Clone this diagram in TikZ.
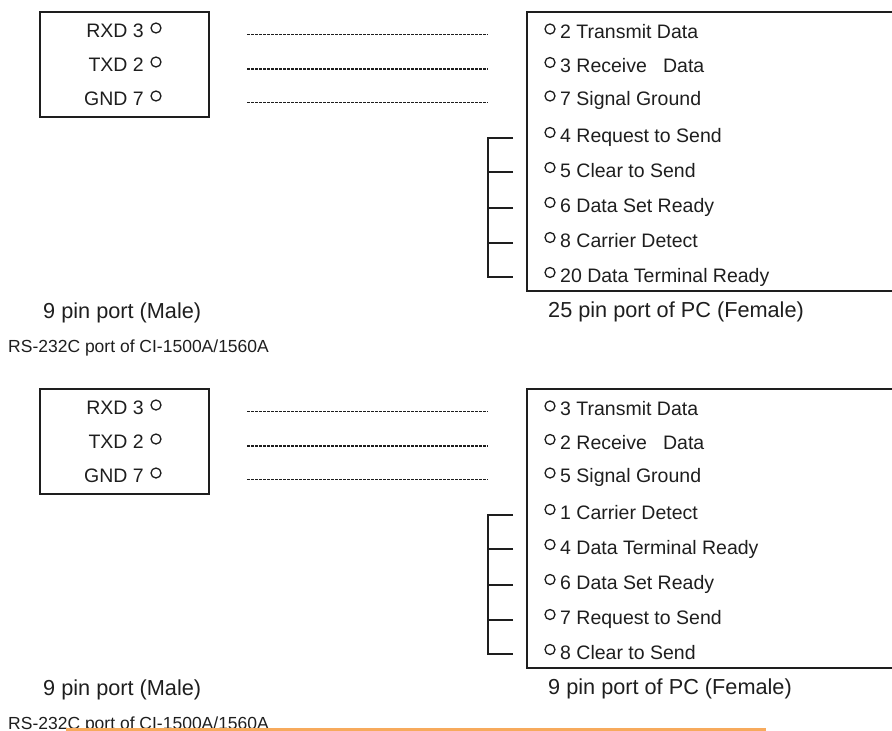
\documentclass[tikz,border=0pt]{standalone}
\usepackage{fontspec}
\setmainfont{Liberation Sans}
\usetikzlibrary{positioning}
\definecolor{inkgrey}{RGB}{30,30,30}
\definecolor{rulegold}{RGB}{247,170,92}
\newcommand{\rowsize}{\fontsize{19.5}{22}\selectfont}
\newcommand{\capsize}{\fontsize{21.7}{25}\selectfont}
\newcommand{\notesize}{\fontsize{17.5}{20}\selectfont}
\tikzset{
    port/.style={
           rectangle,
           draw=inkgrey, line width=1.4pt,
           inner sep=0pt,
           },
    pin/.style={circle, draw=inkgrey, line width=1.3pt, inner sep=0pt, minimum size=10pt},
    pinname/.style={inner sep=0pt, text=inkgrey, font=\rowsize},
    caption/.style={inner sep=0pt, text=inkgrey, font=\capsize, anchor=base west},
    note/.style={inner sep=0pt, text=inkgrey, font=\notesize, anchor=base west},
    wire/.style={draw=inkgrey, line width=1.5pt, dash pattern=on 3pt off 1pt},
    jumper/.style={draw=inkgrey, line width=1.5pt},
}
\begin{document}
\begin{tikzpicture}[x=1pt,y=-1pt]
      \useasboundingbox (0,0) rectangle (892,731);
      \clip (0,0) rectangle (892,731);

      \node[port, minimum width=169pt, minimum height=105pt] (male_a) at (124.5,64.5) {};
      \node[port, minimum width=473pt, minimum height=279pt] (female_a) at (763.5,151.5) {};

      \node[pinname, anchor=base east] (rxd_a) at (144,37)  {RXD 3};
      \node[pinname, anchor=base east] (txd_a) at (144,71)  {TXD 2};
      \node[pinname, anchor=base east] (gnd_a) at (144,105) {GND 7};
      \node[pin] (p_rxd_a) at (156,28)   {};
      \node[pin] (p_txd_a) at (156,62)   {};
      \node[pin] (p_gnd_a) at (156,96)   {};

      \node[pin] (q_1a) at (550,29)    {};
      \node[pin] (q_2a) at (550,62.5)  {};
      \node[pin] (q_3a) at (550,96)    {};
      \node[pin] (q_4a) at (550,132.5) {};
      \node[pin] (q_5a) at (550,167.5) {};
      \node[pin] (q_6a) at (550,202.5) {};
      \node[pin] (q_7a) at (550,237.5) {};
      \node[pin] (q_8a) at (550,272.5) {};
      \node[pinname, anchor=base west] (t_1a) at (560,38.5)  {2 Transmit Data};
      \node[pinname, anchor=base west] (t_2a) at (560,72)    {3 Receive~~~Data};
      \node[pinname, anchor=base west] (t_3a) at (560,105.5) {7 Signal Ground};
      \node[pinname, anchor=base west] (t_4a) at (560,142)   {4 Request to Send};
      \node[pinname, anchor=base west] (t_5a) at (560,177)   {5 Clear to Send};
      \node[pinname, anchor=base west] (t_6a) at (560,212)   {6 Data Set Ready};
      \node[pinname, anchor=base west] (t_7a) at (560,247)   {8 Carrier Detect};
      \node[pinname, anchor=base west] (t_8a) at (560,282)   {20 Data Terminal Ready};

      \coordinate (ws_1a) at (247,34.5);  \coordinate (we_1a) at (488,34.5);
      \coordinate (ws_2a) at (247,69);    \coordinate (we_2a) at (488,69);
      \coordinate (ws_3a) at (247,102.5); \coordinate (we_3a) at (488,102.5);
      \draw[wire] (ws_1a) -- (we_1a);
      \draw[wire] (ws_2a) -- (we_2a);
      \draw[wire] (ws_3a) -- (we_3a);

      \coordinate (jt_a) at (488,138);
      \coordinate (jb_a) at (488,277);
      \coordinate (j_1a) at (513,138);
      \coordinate (j_2a) at (513,172);
      \coordinate (j_3a) at (513,208);
      \coordinate (j_4a) at (513,243);
      \coordinate (j_5a) at (513,277);
      \draw[jumper] (j_1a) -- (jt_a) -- (jb_a) -- (j_5a);
      \draw[jumper] (j_2a) -- (j_2a -| jt_a);
      \draw[jumper] (j_3a) -- (j_3a -| jt_a);
      \draw[jumper] (j_4a) -- (j_4a -| jt_a);

      \node[caption] (male_cap_a) at (43,318)  {9 pin port (Male)};
      \node[caption] (pc_cap_a)   at (548,317.5) {25 pin port of PC (Female)};
      \node[note]    (model_a)    at (8,352)   {RS-232C port of CI-1500A/1560A};

      \node[port, minimum width=169pt, minimum height=105pt] (male_b) at (124.5,441.5) {};
      \node[port, minimum width=473pt, minimum height=279pt] (female_b) at (763.5,528.5) {};

      \node[pinname, anchor=base east] (rxd_b) at (144,414) {RXD 3};
      \node[pinname, anchor=base east] (txd_b) at (144,448) {TXD 2};
      \node[pinname, anchor=base east] (gnd_b) at (144,482) {GND 7};
      \node[pin] (p_rxd_b) at (156,405) {};
      \node[pin] (p_txd_b) at (156,439) {};
      \node[pin] (p_gnd_b) at (156,473) {};

      \node[pin] (q_1b) at (550,406)   {};
      \node[pin] (q_2b) at (550,439.5) {};
      \node[pin] (q_3b) at (550,473)   {};
      \node[pin] (q_4b) at (550,509.5) {};
      \node[pin] (q_5b) at (550,544.5) {};
      \node[pin] (q_6b) at (550,579.5) {};
      \node[pin] (q_7b) at (550,614.5) {};
      \node[pin] (q_8b) at (550,649.5) {};
      \node[pinname, anchor=base west] (t_1b) at (560,415.5) {3 Transmit Data};
      \node[pinname, anchor=base west] (t_2b) at (560,449)   {2 Receive~~~Data};
      \node[pinname, anchor=base west] (t_3b) at (560,482.5) {5 Signal Ground};
      \node[pinname, anchor=base west] (t_4b) at (560,519)   {1 Carrier Detect};
      \node[pinname, anchor=base west] (t_5b) at (560,554)   {4 Data Terminal Ready};
      \node[pinname, anchor=base west] (t_6b) at (560,589)   {6 Data Set Ready};
      \node[pinname, anchor=base west] (t_7b) at (560,624)   {7 Request to Send};
      \node[pinname, anchor=base west] (t_8b) at (560,659)   {8 Clear to Send};

      \coordinate (ws_1b) at (247,411.5); \coordinate (we_1b) at (488,411.5);
      \coordinate (ws_2b) at (247,446);   \coordinate (we_2b) at (488,446);
      \coordinate (ws_3b) at (247,479.5); \coordinate (we_3b) at (488,479.5);
      \draw[wire] (ws_1b) -- (we_1b);
      \draw[wire] (ws_2b) -- (we_2b);
      \draw[wire] (ws_3b) -- (we_3b);

      \coordinate (jt_b) at (488,515);
      \coordinate (jb_b) at (488,654);
      \coordinate (j_1b) at (513,515);
      \coordinate (j_2b) at (513,549);
      \coordinate (j_3b) at (513,585);
      \coordinate (j_4b) at (513,620);
      \coordinate (j_5b) at (513,654);
      \draw[jumper] (j_1b) -- (jt_b) -- (jb_b) -- (j_5b);
      \draw[jumper] (j_2b) -- (j_2b -| jt_b);
      \draw[jumper] (j_3b) -- (j_3b -| jt_b);
      \draw[jumper] (j_4b) -- (j_4b -| jt_b);

      \node[caption] (male_cap_b) at (43,695)    {9 pin port (Male)};
      \node[caption] (pc_cap_b)   at (548,694.5) {9 pin port of PC (Female)};
      \node[note]    (model_b)    at (8,729)     {RS-232C port of CI-1500A/1560A};

      \coordinate (rule_l) at (66,729.5);
      \coordinate (rule_r) at (766,729.5);
      \draw[rulegold, line width=3pt] (rule_l) -- (rule_r);
\end{tikzpicture}
\end{document}
